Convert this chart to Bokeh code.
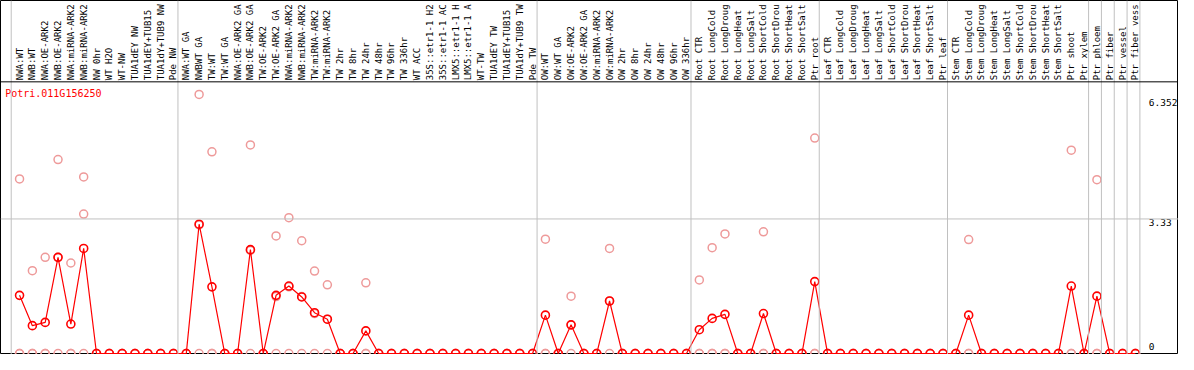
import math
from bokeh.plotting import figure
from bokeh.models import Range1d, Span, ColumnDataSource
from bokeh.core.properties import value
from bokeh.embed import file_html
from bokeh.resources import INLINE

gene = "Potri.011G156250"

# category labels as they are shown (truncated by the header strip)
categories = [
    "NWA:WT", "NWB:WT", "NWA:OE-ARK2", "NWB:OE-ARK2", "NWA:miRNA-ARK2", "NWB:miRNA-ARK2",
    "NW 0hr", "WT H2O", "WT-NW", "TUA1dEY NW", "TUA1dEY+TUB15", "TUA1dY+TUB9 NW", "Pde NW",
    "NWA:WT GA", "NWBWT GA", "TW:WT", "TW:WT GA", "NWA:OE-ARK2 GA", "NWB:OE-ARK2 GA",
    "TW:OE-ARK2", "TW:OE-ARK2 GA", "NWA:miRNA-ARK2", "NWB:miRNA-ARK2", "TW:miRNA-ARK2",
    "TW:miRNA-ARK2", "TW 2hr", "TW 8hr", "TW 24hr", "TW 48hr", "TW 96hr", "TW 336hr", "WT ACC",
    "35S::etr1-1 H2", "35S::etr1-1 AC", "LMX5::etr1-1 H", "LMX5::etr1-1 A", "WT-TW",
    "TUA1dEY TW", "TUA1dEY+TUB15", "TUA1dY+TUB9 TW", "Pde TW",
    "OW:WT", "OW:WT GA", "OW:OE-ARK2", "OW:OE-ARK2 GA", "OW:miRNA-ARK2", "OW:miRNA-ARK2",
    "OW 2hr", "OW 8hr", "OW 24hr", "OW 48hr", "OW 96hr", "OW 336hr",
    "Root CTR", "Root LongCold", "Root LongDroug", "Root LongHeat", "Root LongSalt",
    "Root ShortCold", "Root ShortDrou", "Root ShortHeat", "Root ShortSalt", "Ptr root",
    "Leaf CTR", "Leaf LongCold", "Leaf LongDroug", "Leaf LongHeat", "Leaf LongSalt",
    "Leaf ShortCold", "Leaf ShortDrou", "Leaf ShortHeat", "Leaf ShortSalt", "Ptr leaf",
    "Stem CTR", "Stem LongCold", "Stem LongDroug", "Stem LongHeat", "Stem LongSalt",
    "Stem ShortCold", "Stem ShortDrou", "Stem ShortHeat", "Stem ShortSalt", "Ptr shoot",
    "Ptr xylem", "Ptr phloem", "Ptr fiber", "Ptr vessel", "Ptr fiber vess",
]

# mean expression (red line)
mean_vals = [
    1.44, 0.69, 0.77, 2.38, 0.73, 2.60, 0, 0, 0, 0, 0, 0, 0,
    0, 3.20, 1.65, 0, 0, 2.57, 0, 1.44, 1.67, 1.40, 1.01, 0.85, 0, 0, 0.56,
    0, 0, 0, 0, 0, 0, 0, 0, 0, 0, 0, 0, 0,
    0.95, 0, 0.71, 0, 0, 1.30, 0, 0, 0, 0, 0, 0,
    0.59, 0.87, 0.97, 0, 0, 0.99, 0, 0, 0, 1.78,
    0, 0, 0, 0, 0, 0, 0, 0, 0, 0,
    0, 0.95, 0, 0, 0, 0, 0, 0, 0, 1.67,
    0, 1.42, 0, 0, 0,
]

# replicate values (pink points)
rep1 = [
    4.32, 2.05, 2.38, 4.80, 2.24, 4.37, 0, 0, 0, 0, 0, 0, 0,
    0, 6.41, 4.99, 0, 0, 5.16, 0, 2.91, 3.36, 2.79, 2.04, 1.70, 0, 0, 1.75,
    0, 0, 0, 0, 0, 0, 0, 0, 0, 0, 0, 0, 0,
    2.83, 0, 1.42, 0, 0, 2.60, 0, 0, 0, 0, 0, 0,
    1.82, 2.62, 2.96, 0, 0, 3.01, 0, 0, 0, 5.33,
    0, 0, 0, 0, 0, 0, 0, 0, 0, 0,
    0, 2.82, 0, 0, 0, 0, 0, 0, 0, 5.03,
    0, 4.30, 0, 0, 0,
]
rep2 = [
    0, 0, 0, 2.38, 0, 3.45, 0, 0, 0, 0, 0, 0, 0,
    0, 3.18, 0, 0, 0, 2.55, 0, 1.41, 1.65, 1.41, 0.99, 0.85, 0, 0, 0,
    0, 0, 0, 0, 0, 0, 0, 0, 0, 0, 0, 0, 0,
    0, 0, 0.71, 0, 0, 1.30, 0, 0, 0, 0, 0, 0,
    0, 0, 0, 0, 0, 0, 0, 0, 0, 0,
    0, 0, 0, 0, 0, 0, 0, 0, 0, 0,
    0, 0, 0, 0, 0, 0, 0, 0, 0, 0,
    0, 0, 0, 0, 0,
]
rep3 = [0] * len(categories)

# last index of each group (group separators)
group_ends = [-1, 12, 40, 52, 62, 72, 83, 84, 85, 86, 87]

tick_labels = ["6.352", "3.33", "0"]
tick_label_pos = [6.21, 3.235, 0.17]

FONT = "DejaVu Sans Mono"
n = len(categories)
xs = list(range(n))

p = figure(width=1178, height=354, output_backend="svg", toolbar_location=None,
           x_range=Range1d(-1.485, 90.36), y_range=Range1d(-0.0237, 8.734),
           min_border=0, min_border_left=0, min_border_right=0,
           min_border_top=0, min_border_bottom=0)
p.xaxis.visible = False
p.yaxis.visible = False
p.xgrid.visible = False
p.ygrid.visible = False
p.outline_line_color = "black"
p.outline_line_width = 1
p.background_fill_color = "white"
p.border_fill_color = "white"

# group separators
for g in group_ends:
    p.add_layout(Span(location=g + 0.35, dimension="height", line_color="#c0c0c0", line_width=1))
# gridline at middle tick
p.add_layout(Span(location=3.33, dimension="width", line_color="#c0c0c0", line_width=1))
# header separator
p.add_layout(Span(location=6.722, dimension="width", line_color="black", line_width=1))

# category labels (vertical)
p.text(x=xs, y=[6.76] * n, text=categories, angle=math.pi / 2,
       text_align="left", text_baseline="middle",
       text_font=value(FONT), text_font_size="9px", text_color="black")

pink = "#ee9a9a"
src = ColumnDataSource(dict(x=xs, m=mean_vals, r1=rep1, r2=rep2, r3=rep3))
for col in ["r3", "r2", "r1"]:
    p.scatter(x="x", y=col, source=src, marker="circle", size=8,
              fill_color=None, line_color=pink, line_width=1.5)

p.line(x="x", y="m", source=src, line_color="red", line_width=1.2)
p.scatter(x="x", y="m", source=src, marker="circle", size=8,
          fill_color=None, line_color="red", line_width=1.6)

# gene name
p.text(x=[-1.12], y=[6.43], text=[gene], text_align="left", text_baseline="middle",
       text_font=value(FONT), text_font_size="10px", text_color="red")

# value labels at right
p.text(x=[88.05] * 3, y=tick_label_pos, text=tick_labels, text_align="left",
       text_baseline="middle", text_font=value(FONT), text_font_size="9.5px",
       text_color="black")

open("out.html", "w").write(file_html(p, INLINE))
